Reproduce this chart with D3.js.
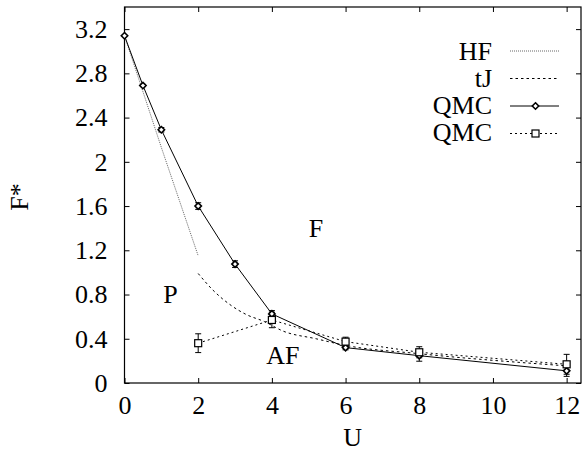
<!DOCTYPE html>
<html><head><meta charset="utf-8">
<script src="https://cdn.jsdelivr.net/npm/d3@7"></script>
<style>html,body{margin:0;padding:0;background:#fff;}svg{display:block;}</style>
</head><body>
<svg id="c" width="582" height="456"></svg>
<script>
// Data
const xTicks = [0, 2, 4, 6, 8, 10, 12];
const yTicks = [0, 0.4, 0.8, 1.2, 1.6, 2, 2.4, 2.8, 3.2];
const yTickLabels = ["0", "0.4", "0.8", "1.2", "1.6", "2", "2.4", "2.8", "3.2"];

const hfU = [0, 1, 2];
const hfF = [3.14, 2.13, 1.15];

const tjU = [2, 2.4, 2.9, 3.3, 3.8, 4.3, 5.2, 6, 8, 12];
const tjF = [0.99, 0.84, 0.70, 0.62, 0.555, 0.47, 0.40, 0.34, 0.265, 0.155];

const qmcU = [0, 0.5, 1, 2, 3, 4, 6, 8, 12];
const qmcF = [3.14, 2.69, 2.29, 1.60, 1.075, 0.625, 0.32, 0.247, 0.11];
const qmcErr = [0, 0.01, 0.02, 0.03, 0.03, 0.03, 0.02, 0.05, 0.05];

const qmc2U = [2, 4, 6, 8, 12];
const qmc2F = [0.36, 0.57, 0.374, 0.278, 0.169];
const qmc2Err = [0.085, 0.07, 0.04, 0.05, 0.09];

const legendLabels = ["HF", "tJ", "QMC", "QMC"];
const regionLabels = [{t: "F", u: 5.2, f: 1.32}, {t: "P", u: 1.25, f: 0.72}, {t: "AF", u: 4.3, f: 0.17}];

const svg = d3.select("#c");
const L = 124.5, R = 581, T = 7, B = 383;
const x = d3.scaleLinear().domain([0, 12.39]).range([L, R]);
const y = d3.scaleLinear().domain([0, 3.4]).range([B, T]);
const font = "'Liberation Serif', 'Times New Roman', serif";

// frame
svg.append("rect").attr("x", L).attr("y", T).attr("width", R - L).attr("height", B - T)
  .attr("fill", "none").attr("stroke", "#000").attr("stroke-width", 1.2);

// ticks (inward, mirrored)
const gx = svg.append("g").attr("transform", `translate(0,${B})`)
  .call(d3.axisBottom(x).tickValues(xTicks).tickSizeInner(-5).tickSizeOuter(0).tickPadding(14));
const gxt = svg.append("g").attr("transform", `translate(0,${T})`)
  .call(d3.axisTop(x).tickValues(xTicks).tickSizeInner(-5).tickSizeOuter(0).tickFormat(""));
const gy = svg.append("g").attr("transform", `translate(${L},0)`)
  .call(d3.axisLeft(y).tickValues(yTicks).tickSizeInner(-5).tickSizeOuter(0).tickPadding(17)
    .tickFormat((d, i) => yTickLabels[i]));
const gyr = svg.append("g").attr("transform", `translate(${R},0)`)
  .call(d3.axisRight(y).tickValues(yTicks).tickSizeInner(-5).tickSizeOuter(0).tickFormat(""));
[gx, gxt, gy, gyr].forEach(g => {
  g.select(".domain").remove();
  g.selectAll("text").attr("font-family", font).attr("font-size", 26).attr("fill", "#000");
  g.selectAll("line").attr("stroke", "#000");
});
gx.selectAll("text").attr("dy", "0.71em").attr("y", 13);

// axis titles
svg.append("text").attr("x", (L + R) / 2).attr("y", 446).attr("text-anchor", "middle")
  .attr("font-family", font).attr("font-size", 26).text("U");
svg.append("text").attr("transform", "translate(28,197) rotate(-90)").attr("text-anchor", "middle")
  .attr("font-family", font).attr("font-size", 26).text("F*");

const line = d3.line().x(d => x(d[0])).y(d => y(d[1]));
const zip = (a, b) => a.map((v, i) => [v, b[i]]);

// HF
svg.append("path").datum(zip(hfU, hfF)).attr("d", line).attr("fill", "none")
  .attr("stroke", "#666").attr("stroke-width", 1).attr("stroke-dasharray", "1,1");
// tJ
svg.append("path").datum(zip(tjU, tjF)).attr("d", d3.line().x(d => x(d[0])).y(d => y(d[1])).curve(d3.curveMonotoneX))
  .attr("fill", "none").attr("stroke", "#000").attr("stroke-width", 1).attr("stroke-dasharray", "2.5,3");
// QMC2 line
svg.append("path").datum(zip(qmc2U, qmc2F)).attr("d", line).attr("fill", "none")
  .attr("stroke", "#000").attr("stroke-width", 1).attr("stroke-dasharray", "2,3");
// QMC line
svg.append("path").datum(zip(qmcU, qmcF)).attr("d", line).attr("fill", "none")
  .attr("stroke", "#000").attr("stroke-width", 1);

function errbars(U, F, E) {
  const g = svg.append("g").attr("stroke", "#000").attr("stroke-width", 1);
  U.forEach((u, i) => {
    if (!E[i]) return;
    const cx = x(u), y1 = y(F[i] + E[i]), y2 = y(F[i] - E[i]);
    g.append("line").attr("x1", cx).attr("x2", cx).attr("y1", y1).attr("y2", y2);
    g.append("line").attr("x1", cx - 3).attr("x2", cx + 3).attr("y1", y1).attr("y2", y1);
    g.append("line").attr("x1", cx - 3).attr("x2", cx + 3).attr("y1", y2).attr("y2", y2);
  });
}
errbars(qmcU, qmcF, qmcErr);
errbars(qmc2U, qmc2F, qmc2Err);

function diamond(g, cx, cy) {
  g.append("path").attr("d", `M${cx},${cy - 3.2}L${cx + 3.2},${cy}L${cx},${cy + 3.2}L${cx - 3.2},${cy}Z`)
    .attr("fill", "#fff").attr("stroke", "#000").attr("stroke-width", 1.6);
}
function square(g, cx, cy) {
  g.append("rect").attr("x", cx - 3.5).attr("y", cy - 3.5).attr("width", 7).attr("height", 7)
    .attr("fill", "#fff").attr("stroke", "#000").attr("stroke-width", 1.2);
}
const gm = svg.append("g");
qmcU.forEach((u, i) => diamond(gm, x(u), y(qmcF[i])));
qmc2U.forEach((u, i) => square(gm, x(u), y(qmc2F[i])));

// region labels
regionLabels.forEach(r => {
  svg.append("text").attr("x", x(r.u)).attr("y", y(r.f)).attr("text-anchor", "middle")
    .attr("font-family", font).attr("font-size", 26).text(r.t);
});

// legend
const legY = [60, 87, 114, 141];
const lineY = [51, 78.5, 106, 133.5];
const lx1 = 510, lx2 = 559;
legendLabels.forEach((t, i) => {
  svg.append("text").attr("x", 492).attr("y", legY[i]).attr("text-anchor", "end")
    .attr("font-family", font).attr("font-size", 26).text(t);
});
svg.append("line").attr("x1", lx1).attr("x2", lx2).attr("y1", lineY[0]).attr("y2", lineY[0])
  .attr("stroke", "#666").attr("stroke-dasharray", "1,1");
svg.append("line").attr("x1", lx1).attr("x2", lx2).attr("y1", lineY[1]).attr("y2", lineY[1])
  .attr("stroke", "#000").attr("stroke-dasharray", "2.5,3");
svg.append("line").attr("x1", lx1).attr("x2", lx2).attr("y1", lineY[2]).attr("y2", lineY[2])
  .attr("stroke", "#000");
diamond(svg, (lx1 + lx2) / 2 + 1, lineY[2]);
svg.append("line").attr("x1", lx1).attr("x2", lx2).attr("y1", lineY[3]).attr("y2", lineY[3])
  .attr("stroke", "#000").attr("stroke-dasharray", "2,3");
square(svg, (lx1 + lx2) / 2 + 1, lineY[3]);
</script>
</body></html>
